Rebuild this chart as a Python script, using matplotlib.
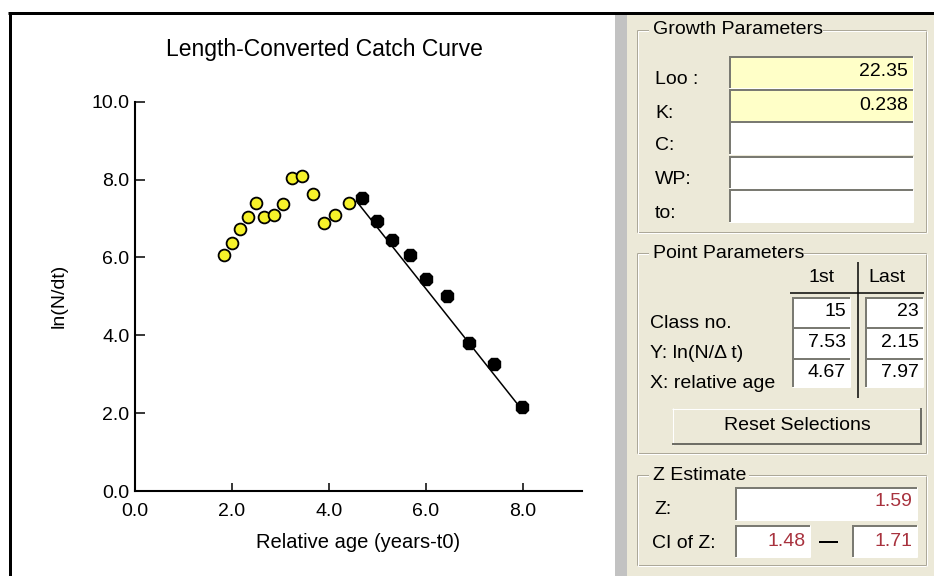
import numpy as np
import matplotlib
matplotlib.use('Agg')
import matplotlib.pyplot as plt
from matplotlib.patches import Rectangle
from matplotlib.ticker import FormatStrFormatter

plt.rcParams['font.family'] = ['Liberation Sans', 'DejaVu Sans']

# catch curve points
yellow_x = [1.84, 2.01, 2.16, 2.32, 2.49, 2.66, 2.87, 3.05, 3.24, 3.45, 3.68, 3.90, 4.13, 4.41]
yellow_y = [6.06, 6.36, 6.73, 7.03, 7.41, 7.03, 7.08, 7.38, 8.05, 8.10, 7.62, 6.88, 7.10, 7.39]
black_x = [4.67, 4.98, 5.30, 5.66, 6.00, 6.43, 6.89, 7.40, 7.97]
black_y = [7.53, 6.94, 6.45, 6.06, 5.45, 5.01, 3.79, 3.26, 2.15]
fit_x = [4.60, 7.90]
fit_y = [7.39, 2.21]
xticks = [0, 2, 4, 6, 8]
yticks = [0, 2, 4, 6, 8, 10]

# side panel values
growth_labels = ['Loo :', 'K:', 'C:', 'WP:', 'to:']
growth_values = ['22.35', '0.238', '', '', '']
point_labels = ['Class no.', 'Y: ln(N/\u0394 t)', 'X: relative age']
point_first = ['15', '7.53', '4.67']
point_last = ['23', '2.15', '7.97']
z_value = '1.59'
ci_low, ci_high = '1.48', '1.71'

W, H = 934, 576
fig = plt.figure(figsize=(W / 100, H / 100), dpi=100)

# background drawn in pixel coords
bg = fig.add_axes([0, 0, 1, 1], zorder=0)
bg.set_xlim(0, W)
bg.set_ylim(H, 0)
bg.axis('off')

PX = 0.72  # one pixel in points
FS = 14
RED = '#a8323e'
BEIGE = '#ece9d8'


def rect(x0, y0, x1, y1, color, z=1):
    bg.add_patch(Rectangle((x0, y0), x1 - x0, y1 - y0, facecolor=color,
                           edgecolor='none', zorder=z))


def hline(x0, x1, y, color, lw=1, z=3):
    bg.plot([x0, x1], [y, y], color=color, lw=lw * PX, zorder=z, solid_capstyle='butt')


def vline(x, y0, y1, color, lw=1, z=3):
    bg.plot([x, x], [y0, y1], color=color, lw=lw * PX, zorder=z, solid_capstyle='butt')


def sunken(x0, y0, x1, y1, fill='white'):
    rect(x0, y0, x1, y1, fill, z=2)
    hline(x0, x1, y0 + 1, '#7a7a72', 2)
    vline(x0 + 1, y0, y1, '#7a7a72', 2)
    hline(x0, x1, y1 - 0.5, 'white', 1)
    vline(x1 - 0.5, y0, y1, 'white', 1)


def raised(x0, y0, x1, y1):
    rect(x0, y0, x1, y1, BEIGE, z=2)
    hline(x0, x1, y0 + 0.5, 'white', 1)
    vline(x0 + 0.5, y0, y1, 'white', 1)
    hline(x0, x1, y1 - 1, '#6e6e66', 2)
    vline(x1 - 1, y0, y1, '#6e6e66', 2)


def group(x0, y0, x1, y1, title, title_w):
    for off, col in [(0, '#aca899'), (1, 'white')]:
        hline(x0 + off, x1, y0 + off, col, 1, z=2)
        hline(x0 + off, x1, y1 + off, col, 1, z=2)
        vline(x0 + off, y0 + off, y1 + off, col, 1, z=2)
        vline(x1 + off, y0 + off, y1 + off, col, 1, z=2)
    rect(x0 + 12, y0 - 10, x0 + 14 + title_w, y0 + 4, BEIGE, z=2.5)
    bg.text(x0 + 16, y0, title, fontsize=FS, va='center', ha='left', zorder=4)


# panels
rect(10, 13, 615, H, 'white')
rect(615, 13, 627, H, '#c2c2c2')
rect(627, 13, W, H, BEIGE)
hline(8, W, 13, 'black', 3, z=5)
vline(10, 13, H, 'black', 3, z=5)

# Growth Parameters
group(637, 30, 926, 232, 'Growth Parameters', 172)
row_y = [(56, 88), (89, 121), (121, 154), (156, 188), (189, 222)]
for i, (lab, val) in enumerate(zip(growth_labels, growth_values)):
    y0, y1 = row_y[i]
    fill = '#ffffc8' if val else 'white'
    sunken(729, y0, 913, y1, fill)
    bg.text(655, (y0 + y1) / 2 + 8, lab, fontsize=FS, va='center', ha='left', zorder=4)
    if val:
        bg.text(908, (y0 + y1) / 2, val, fontsize=FS, va='center', ha='right', zorder=4)

# Point Parameters
group(637, 253, 926, 453, 'Point Parameters', 150)
bg.text(822, 277, '1st', fontsize=FS, va='center', ha='center', zorder=4)
bg.text(887, 277, 'Last', fontsize=FS, va='center', ha='center', zorder=4)
vline(858, 262, 398, 'black', 1.5, z=6)
hline(790, 924, 293, 'black', 1.5, z=6)
prow = [(297, 327), (327, 358), (358, 387)]
for i, (lab, a, b) in enumerate(zip(point_labels, point_first, point_last)):
    y0, y1 = prow[i]
    sunken(792, y0, 850, y1)
    sunken(865, y0, 923, y1)
    bg.text(650, y1 - 4, lab, fontsize=FS, va='center', ha='left', zorder=4)
    bg.text(846, (y0 + y1) / 2, a, fontsize=FS, va='center', ha='right', zorder=4)
    bg.text(919, (y0 + y1) / 2, b, fontsize=FS, va='center', ha='right', zorder=4)
raised(672, 408, 922, 445)
bg.text(797, 426, 'Reset Selections', fontsize=FS, va='center', ha='center', zorder=4)

# Z Estimate
group(637, 475, 926, 565, 'Z Estimate', 98)
sunken(735, 487, 917, 520)
bg.text(654, 510, 'Z:', fontsize=FS, va='center', ha='left', zorder=4)
bg.text(912, 502, z_value, fontsize=FS, va='center', ha='right', color=RED, zorder=4)
bg.text(652, 543, 'CI of Z:', fontsize=FS, va='center', ha='left', zorder=4)
sunken(735, 525, 810, 557)
sunken(852, 525, 917, 557)
bg.text(806, 541, ci_low, fontsize=FS, va='center', ha='right', color=RED, zorder=4)
bg.text(912, 541, ci_high, fontsize=FS, va='center', ha='right', color=RED, zorder=4)
hline(819, 838, 542, 'black', 2, z=4)

# the catch curve itself
ax = fig.add_axes([135 / W, (H - 491) / H, (581.7 - 135) / W, (491 - 101.7) / H], zorder=2)
ax.patch.set_alpha(0)
ax.plot(fit_x, fit_y, color='black', lw=1.1, zorder=2)
ax.plot(yellow_x, yellow_y, 'o', ms=8.5, mfc='#f6f22a', mec='black', mew=1.3,
        zorder=3, clip_on=False)
ax.plot(black_x, black_y, '8', ms=9.5, mfc='black', mec='black', zorder=3, clip_on=False)

ax.set_xlim(0, 9.21)
ax.set_ylim(0, 10)
ax.set_xticks(xticks)
ax.set_yticks(yticks)
ax.xaxis.set_major_formatter(FormatStrFormatter('%.1f'))
ax.yaxis.set_major_formatter(FormatStrFormatter('%.1f'))
ax.tick_params(axis='y', direction='in', length=7, width=1.1, pad=4, labelsize=FS)
ax.tick_params(axis='x', direction='in', length=6, width=1.1, pad=9, labelsize=FS)
for s in ['top', 'right']:
    ax.spines[s].set_visible(False)
for s in ['left', 'bottom']:
    ax.spines[s].set_linewidth(1.5)

ax.set_xlabel('Relative age (years-t0)', fontsize=14.5, labelpad=9)
ax.set_ylabel('ln(N/dt)', fontsize=14)
ax.yaxis.set_label_coords(-0.15, 0.5)
ax.set_title('Length-Converted Catch Curve', fontsize=16.5, x=0.425, pad=33)

fig.savefig('out.png', dpi=100)
